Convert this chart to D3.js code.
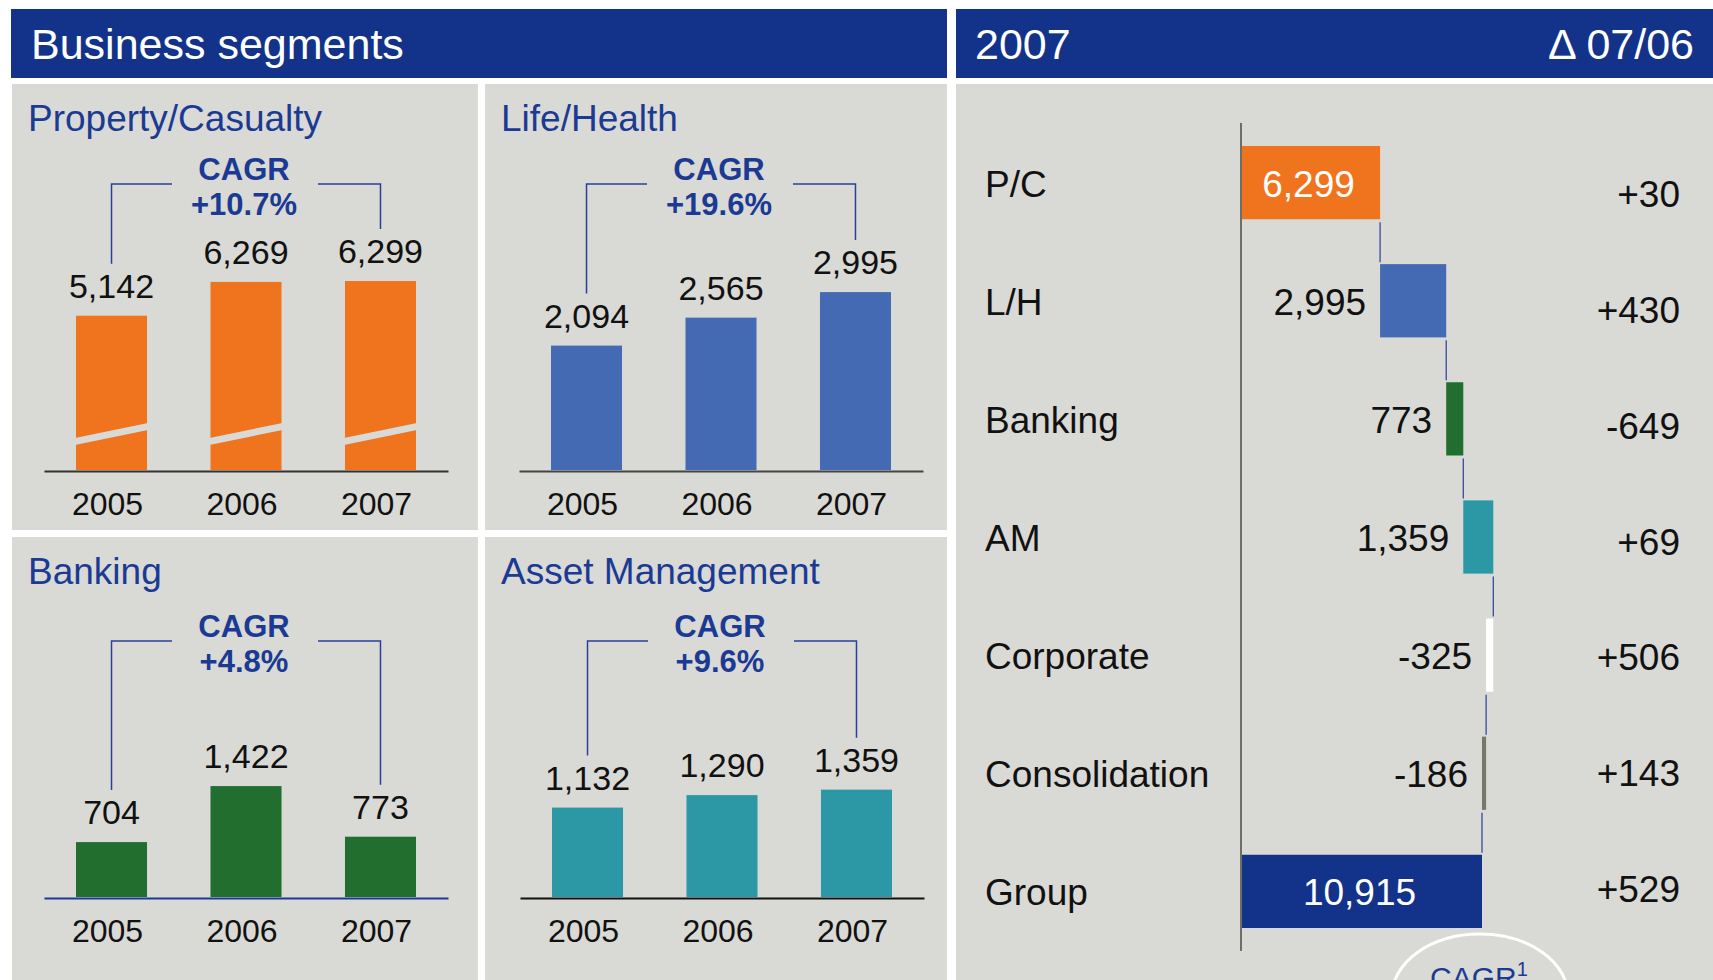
<!DOCTYPE html>
<html>
<head>
<meta charset="utf-8">
<script src="https://cdn.jsdelivr.net/npm/d3@7"></script>
<style>
  body { margin: 0; background: #fff; }
  text { font-family: "Liberation Sans", Arial, sans-serif; }
</style>
</head>
<body>
<div id="chart"></div>
<script>
// data
var years = ["2005", "2006", "2007"];
var segNames = ["Property/Casualty", "Life/Health", "Banking", "Asset Management"];
var pcValues = [5142, 6269, 6299];
var lhValues = [2094, 2565, 2995];
var bankValues = [704, 1422, 773];
var amValues = [1132, 1290, 1359];
var cagrLabels = ["+10.7%", "+19.6%", "+4.8%", "+9.6%"];

var wfCategories = ["P/C", "L/H", "Banking", "AM", "Corporate", "Consolidation", "Group"];
var wfValues = [6299, 2995, 773, 1359, -325, -186, 10915];
var wfDeltas = ["+30", "+430", "-649", "+69", "+506", "+143", "+529"];

var navy = "#13338a", panelGray = "#d9d9d5", txtBlue = "#1b3a93";

var svg = d3.select("#chart").append("svg")
    .attr("width", 1713)
    .attr("height", 980);

// header bars
svg.append("rect").attr("x", 11).attr("y", 9).attr("width", 936).attr("height", 69).attr("fill", navy);
svg.append("rect").attr("x", 956).attr("y", 9).attr("width", 757).attr("height", 69).attr("fill", navy);
svg.append("text").attr("x", 31).attr("y", 59).attr("fill", "#fff").style("font-size", "43px").text("Business segments");
svg.append("text").attr("x", 975).attr("y", 59).attr("fill", "#fff").style("font-size", "43px").text("2007");
svg.append("text").attr("x", 1694).attr("y", 59).attr("fill", "#fff").attr("text-anchor", "end")
    .style("font-size", "43px").text("\u0394 07/06");

// small multiples
var panels = [
  {name: segNames[0], values: pcValues, cagr: cagrLabels[0], px: 12,  py: 84,  w: 466, h: 446, base: 386, xOff: 0,
   cy: [96, 131], hy: 100, dMax: 6666, color: "#f0731e", axis: "#333", stripe: true},
  {name: segNames[1], values: lhValues, cagr: cagrLabels[1], px: 485, py: 84,  w: 462, h: 446, base: 386, xOff: 2,
   cy: [96, 131], hy: 100, dMax: 3367, color: "#436ab3", axis: "#444"},
  {name: segNames[2], values: bankValues, cagr: cagrLabels[2], px: 12,  py: 537, w: 466, h: 443, base: 360, xOff: 0,
   cy: [100, 135], hy: 104, dMax: 2564, color: "#216e2f", axis: "#1b3a93"},
  {name: segNames[3], values: amValues, cagr: cagrLabels[3], px: 485, py: 537, w: 462, h: 443, base: 360, xOff: 3,
   cy: [100, 135], hy: 104, dMax: 2532, color: "#2c97a5", axis: "#111"}
];

panels.forEach(function(p) {
  var g = svg.append("g").attr("transform", "translate(" + p.px + "," + p.py + ")");
  var base = p.base;

  g.append("rect").attr("width", p.w).attr("height", p.h).attr("fill", panelGray);

  g.append("text")
    .attr("x", 16).attr("y", 47)
    .attr("fill", txtBlue)
    .style("font-size", "37px")
    .text(p.name);

  var x = d3.scaleBand().domain(years).range([32 + p.xOff, 436 + p.xOff]).paddingInner(0.472).paddingOuter(0.238);
  var y = d3.scaleLinear().domain([0, p.dMax]).range([base, base - 200]);

  var data = years.map(function(yr, i) { return {year: yr, value: p.values[i]}; });

  g.selectAll(".bar").data(data).enter().append("rect")
    .attr("x", function(d) { return x(d.year); })
    .attr("y", function(d) { return y(d.value); })
    .attr("width", x.bandwidth())
    .attr("height", function(d) { return base - y(d.value); })
    .attr("fill", p.color);

  if (p.stripe) {
    g.selectAll(".stripe").data(data).enter().append("polygon")
      .attr("points", function(d) {
        var x0 = x(d.year) - 1, x1 = x(d.year) + x.bandwidth() + 1;
        return [[x0, base - 25], [x1, base - 40], [x1, base - 47], [x0, base - 32]].join(" ");
      })
      .attr("fill", panelGray);
  }

  var ax = g.append("g")
    .attr("transform", "translate(0," + (base + 1) + ")")
    .call(d3.axisBottom(x).tickSize(0).tickPadding(21));
  ax.select(".domain").attr("stroke", p.axis).attr("stroke-width", 2);
  ax.selectAll("text").style("font-size", "32px").attr("fill", "#111")
    .style("font-family", "'Liberation Sans', Arial, sans-serif")
    .attr("dx", -4);

  g.selectAll(".val").data(data).enter().append("text")
    .attr("x", function(d) { return x(d.year) + x.bandwidth() / 2; })
    .attr("y", function(d) { return y(d.value) - 18; })
    .attr("text-anchor", "middle")
    .attr("fill", "#111")
    .style("font-size", "34px")
    .text(function(d) { return d3.format(",")(d.value); });

  // CAGR bracket
  var c0 = x(years[0]) + x.bandwidth() / 2,
      c2 = x(years[2]) + x.bandwidth() / 2,
      cm = (c0 + c2) / 2 - 2,
      hy = p.hy;
  var top0 = y(p.values[0]) - 18 - 24 - 10,
      top2 = y(p.values[2]) - 18 - 24 - 10;
  var bracket = d3.line();
  g.append("path")
    .attr("d", bracket([[c0, top0], [c0, hy], [cm - 72, hy]]))
    .attr("fill", "none").attr("stroke", "#2a3f99").attr("stroke-width", 1.5);
  g.append("path")
    .attr("d", bracket([[cm + 74, hy], [c2, hy], [c2, top2]]))
    .attr("fill", "none").attr("stroke", "#2a3f99").attr("stroke-width", 1.5);

  g.append("text").attr("x", cm).attr("y", p.cy[0]).attr("text-anchor", "middle")
    .attr("fill", txtBlue).style("font-size", "31px").style("font-weight", "bold").text("CAGR");
  g.append("text").attr("x", cm).attr("y", p.cy[1]).attr("text-anchor", "middle")
    .attr("fill", txtBlue).style("font-size", "31px").style("font-weight", "bold").text(p.cagr);
});

// waterfall
svg.append("rect").attr("x", 956).attr("y", 84).attr("width", 757).attr("height", 896).attr("fill", panelGray);

var wfColors = ["#f0731e", "#436ab3", "#216e2f", "#2c97a5", "#ffffff", "#77776a", navy];
var run = 0;
var wfData = wfCategories.map(function(c, i) {
  var d = {cat: c, value: wfValues[i], delta: wfDeltas[i], color: wfColors[i]};
  if (i === wfCategories.length - 1) { d.x0 = 0; d.x1 = wfValues[i]; }
  else { d.x0 = run; d.x1 = run + wfValues[i]; run = d.x1; }
  return d;
});

var xw = d3.scaleLinear().domain([0, wfValues[wfValues.length - 1]]).range([1241, 1482]);
var yw = d3.scaleBand().domain(wfCategories).range([146, 928]).paddingInner(0.38).paddingOuter(0);
var yd = d3.scalePoint().domain(wfCategories).range([207, 902]);

svg.selectAll(".wfbar").data(wfData).enter().append("rect")
  .attr("x", function(d) { return xw(Math.min(d.x0, d.x1)); })
  .attr("y", function(d) { return yw(d.cat); })
  .attr("width", function(d) { return Math.max(2, Math.abs(xw(d.x1) - xw(d.x0))); })
  .attr("height", yw.bandwidth())
  .attr("fill", function(d) { return d.color; });

// connectors
svg.selectAll(".conn").data(wfData.slice(0, -1)).enter().append("line")
  .attr("x1", function(d) { return xw(d.x1); })
  .attr("x2", function(d) { return xw(d.x1); })
  .attr("y1", function(d) { return yw(d.cat) + yw.bandwidth() + 3; })
  .attr("y2", function(d, i) { return yw(wfCategories[i + 1]) - 2; })
  .attr("stroke", "#2a3f99").attr("stroke-width", 1.2);

svg.append("line")
  .attr("x1", xw(0)).attr("x2", xw(0))
  .attr("y1", 123).attr("y2", 951)
  .attr("stroke", "#6e6e68").attr("stroke-width", 2);

svg.selectAll(".cat").data(wfData).enter().append("text")
  .attr("x", 985)
  .attr("y", function(d) { return yw(d.cat) + yw.bandwidth() / 2 + 14; })
  .attr("fill", "#111").style("font-size", "37px")
  .text(function(d) { return d.cat; });

svg.selectAll(".wfval").data(wfData).enter().append("text")
  .attr("x", function(d) {
    if (d.x0 === 0) return xw((d.x0 + d.x1) / 2) - 2;
    return xw(Math.min(d.x0, d.x1)) - 14;
  })
  .attr("y", function(d) { return yw(d.cat) + yw.bandwidth() / 2 + 14; })
  .attr("text-anchor", function(d) { return d.x0 === 0 ? "middle" : "end"; })
  .attr("fill", function(d) { return d.x0 === 0 ? "#fff" : "#111"; })
  .style("font-size", "37px")
  .text(function(d) { return d3.format(",")(d.value).replace("\u2212", "-"); });

svg.selectAll(".delta").data(wfData).enter().append("text")
  .attr("x", 1680)
  .attr("y", function(d) { return yd(d.cat); })
  .attr("text-anchor", "end")
  .attr("fill", "#111").style("font-size", "37px")
  .text(function(d) { return d.delta; });

// CAGR bubble at the bottom
svg.append("ellipse").attr("cx", 1480).attr("cy", 996).attr("rx", 88).attr("ry", 62)
  .attr("fill", "none").attr("stroke", "#fff").attr("stroke-width", 3);
var cg = svg.append("text").attr("x", 1430).attr("y", 988).attr("fill", txtBlue).style("font-size", "30px");
cg.append("tspan").text("CAGR");
cg.append("tspan").attr("dy", -12).style("font-size", "20px").text("1");
</script>
</body>
</html>
